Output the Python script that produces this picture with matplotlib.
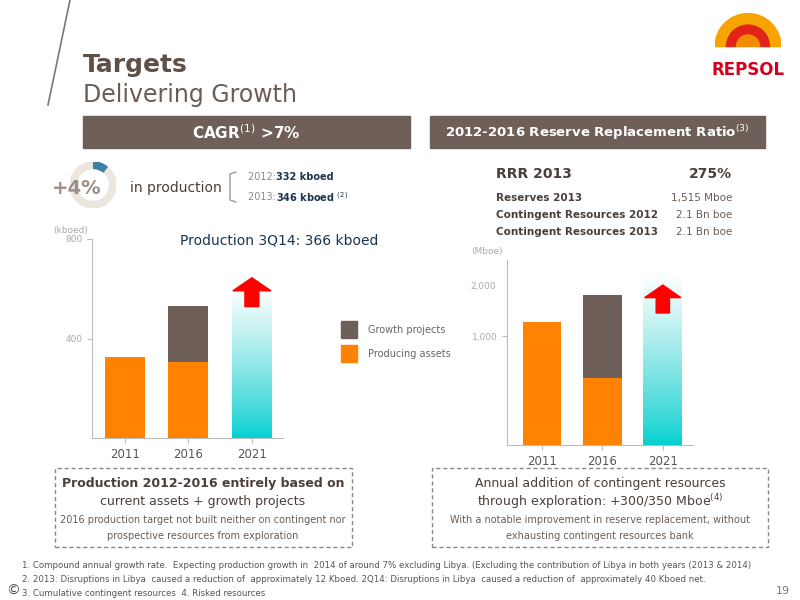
import numpy as np
import matplotlib.pyplot as plt
from matplotlib.patches import Rectangle, FancyArrow, Wedge

# ---------- data ----------
years = ["2011", "2016", "2021"]
prod_producing = [327, 307]
prod_growth = [0, 222]
prod_target_2021 = 598
res_producing = [1128, 615]
res_growth = [0, 761]
res_target_2021 = 1560

ORANGE = "#ff8200"
BROWN = "#6e6059"
DARK = "#4a3f3a"
NAVY = "#1c3350"
GREY = "#8a8a8a"

fig = plt.figure(figsize=(8, 6), dpi=100)
plt.rcParams['font.family'] = ['DejaVu Sans']


def px(x, y):
    return x / 800, 1 - y / 600


def T(x, y, s, **kw):
    fig.text(*px(x, y), s, **kw)


def box(x0, y0, x1, y1, **kw):
    fig.patches.append(Rectangle(px(x0, y1), (x1 - x0) / 800, (y1 - y0) / 600,
                                 transform=fig.transFigure, **kw))


# ---------- header ----------
fig.add_artist(plt.Line2D([70 / 800, 48 / 800], [1, 1 - 105 / 600], color="#777777", lw=1.2))
T(83, 65, "Targets", fontsize=18, weight="bold", color="#5e4f47", va="center")
T(83, 95, "Delivering Growth", fontsize=17, color="#6b5d55", va="center")

# logo
lax = fig.add_axes([715 / 800, 1 - 60 / 600, 66 / 800, 50 / 600])
lax.set_xlim(-1, 1); lax.set_ylim(-0.4, 1.1); lax.axis("off"); lax.set_aspect("equal")
lax.add_patch(Wedge((0, 0), 1.0, 0, 180, width=0.35, color="#f7a400"))
lax.add_patch(Wedge((0, 0), 0.65, 0, 180, width=0.3, color="#e2231a"))
lax.add_patch(Wedge((0, 0), 0.35, 0, 180, color="#f38b00"))
T(748, 70, "REPSOL", fontsize=12, weight="bold", color="#d6001c", ha="center", va="center")

# section bars
box(83, 116, 410, 148, color=BROWN)
box(430, 116, 765, 148, color=BROWN)
T(246, 133, r"CAGR$^{(1)}$ >7%", fontsize=11, weight="bold", color="white", ha="center", va="center")
T(597, 133, r"2012-2016 Reserve Replacement Ratio$^{(3)}$", fontsize=9.5, weight="bold",
  color="white", ha="center", va="center")

# +4% ring
rax = fig.add_axes([70 / 800, 1 - 208 / 600, 46 / 800, 46 / 600])
rax.set_xlim(-1, 1); rax.set_ylim(-1, 1); rax.axis("off"); rax.set_aspect("equal")
rax.add_patch(Wedge((0, 0), 1, 0, 360, width=0.28, color="#ede6df"))
rax.add_patch(Wedge((0, 0), 1, 52, 88, width=0.28, color="#3f7ea6"))
T(77, 189, "+4%", fontsize=14, weight="bold", color="#9a9089", ha="center", va="center")
T(130, 188, "in production", fontsize=10, color=DARK, va="center")
T(248, 177, "2012: ", fontsize=7, color=GREY, va="center")
T(276, 177, "332 kboed", fontsize=7, weight="bold", color=NAVY, va="center")
T(248, 197, "2013: ", fontsize=7, color=GREY, va="center")
T(276, 197, r"346 kboed $^{(2)}$", fontsize=7, weight="bold", color=NAVY, va="center")
fig.add_artist(plt.Line2D([236 / 800, 230 / 800, 230 / 800, 236 / 800],
                          [1 - 172 / 600, 1 - 174 / 600, 1 - 200 / 600, 1 - 202 / 600],
                          color="#999999", lw=1))

# right stats
T(496, 174, "RRR 2013", fontsize=10, weight="bold", color=DARK, va="center")
T(732, 174, "275%", fontsize=10, weight="bold", color=DARK, va="center", ha="right")
for y, a, b in [(198, "Reserves 2013", "1,515 Mboe"),
                (215, "Contingent Resources 2012", "2.1 Bn boe"),
                (232, "Contingent Resources 2013", "2.1 Bn boe")]:
    T(496, y, a, fontsize=7.5, weight="bold", color=DARK, va="center")
    T(732, y, b, fontsize=7.5, color="#6b5d55", va="center", ha="right")


def bar_chart(rect, prod, grow, target, ylim, ticks, ticklabels, unit, xlim, width, arrow):
    ax = fig.add_axes(rect)
    x = np.arange(len(years))
    ax.bar(x[:2], prod, width, color=ORANGE)
    ax.bar(x[:2], grow, width, bottom=prod, color=BROWN)
    grad = np.linspace(0, 1, 256).reshape(-1, 1)
    cyan = np.array([0.0, 0.78, 0.78])
    img = (cyan[None, None, :] * (1 - grad[..., None]) + grad[..., None]) ** 0.8
    ax.imshow(img, extent=[2 - width / 2, 2 + width / 2, 0, target], origin="lower",
              aspect="auto", zorder=2)
    a0, a1 = arrow
    ax.add_patch(FancyArrow(2, a0, 0, a1 - a0, width=0.22, head_width=0.6,
                            head_length=(a1 - a0) * 0.45, color="#ff0000", zorder=3,
                            length_includes_head=True))
    ax.set_xlim(*xlim); ax.set_ylim(*ylim)
    ax.set_xticks(x, years)
    ax.set_yticks(ticks, ticklabels)
    for s in ["top", "right"]:
        ax.spines[s].set_visible(False)
    for s in ["left", "bottom"]:
        ax.spines[s].set_color("#bbbbbb")
    ax.tick_params(axis="x", colors="#bbbbbb", labelcolor="#555555", labelsize=8.5)
    ax.tick_params(axis="y", colors="#bbbbbb", labelcolor="#aaaaaa", labelsize=6.5)
    ax.text(-0.02, 1.03, unit, transform=ax.transAxes, fontsize=6.5, color="#aaaaaa", ha="right")
    return ax


bar_chart([92 / 800, 162 / 600, 191 / 800, 199 / 600], prod_producing, prod_growth,
          prod_target_2021, (0, 800), [400, 800], ["400", "800"], "(kboed)", (-0.52, 2.49), 0.63,
          (528, 644))
bar_chart([507 / 800, 155 / 600, 186 / 800, 185 / 600], res_producing, res_growth,
          res_target_2021, (0, 1700), [1000], ["1,000"], "(Mboe)", (-0.58, 2.5), 0.64,
          (1213, 1470))
T(496, 287, "2,000", fontsize=6.5, color="#aaaaaa", ha="right", va="center")

T(180, 240, "Production 3Q14: 366 kboed", fontsize=10, color=NAVY, va="center")

# legend
box(341, 321, 357, 338, color=BROWN)
box(341, 345, 357, 362, color=ORANGE)
T(368, 330, "Growth projects", fontsize=7, color="#666666", va="center")
T(368, 354, "Producing assets", fontsize=7, color="#666666", va="center")

# bottom boxes
for x0, x1 in [(55, 352), (432, 768)]:
    box(x0, 468, x1, 547, fill=False, ec="#888888", ls=(0, (3, 2)), lw=1)
T(203, 484, "Production 2012-2016 entirely based on", fontsize=9, weight="bold",
  color=DARK, ha="center", va="center")
T(203, 502, "current assets + growth projects", fontsize=9, color=DARK, ha="center", va="center")
T(203, 520, "2016 production target not built neither on contingent nor", fontsize=7,
  color="#6b5d55", ha="center", va="center")
T(203, 536, "prospective resources from exploration", fontsize=7, color="#6b5d55",
  ha="center", va="center")
T(600, 484, "Annual addition of contingent resources", fontsize=9, color=DARK,
  ha="center", va="center")
T(600, 502, r"through exploration: +300/350 Mboe$^{(4)}$", fontsize=9, color=DARK,
  ha="center", va="center")
T(600, 520, "With a notable improvement in reserve replacement, without", fontsize=7,
  color="#6b5d55", ha="center", va="center")
T(600, 536, "exhausting contingent resources bank", fontsize=7, color="#6b5d55",
  ha="center", va="center")

# footnotes
fs = 6.2
T(22, 566, "1. Compound annual growth rate.  Expecting production growth in  2014 of around 7% excluding Libya. "
  "(Excluding the contribution of Libya in both years (2013 & 2014)", fontsize=fs, color="#555555", va="center")
T(22, 580, "2. 2013: Disruptions in Libya  caused a reduction of  approximately 12 Kboed. 2Q14: Disruptions in Libya "
  " caused a reduction of  approximately 40 Kboed net.", fontsize=fs, color="#555555", va="center")
T(22, 593, "3. Cumulative contingent resources  4. Risked resources", fontsize=fs, color="#555555", va="center")
T(6, 591, "©", fontsize=10, color="#555555", va="center")
T(776, 591, "19", fontsize=8, color="#777777", va="center")

fig.savefig("out.png", dpi=100)
